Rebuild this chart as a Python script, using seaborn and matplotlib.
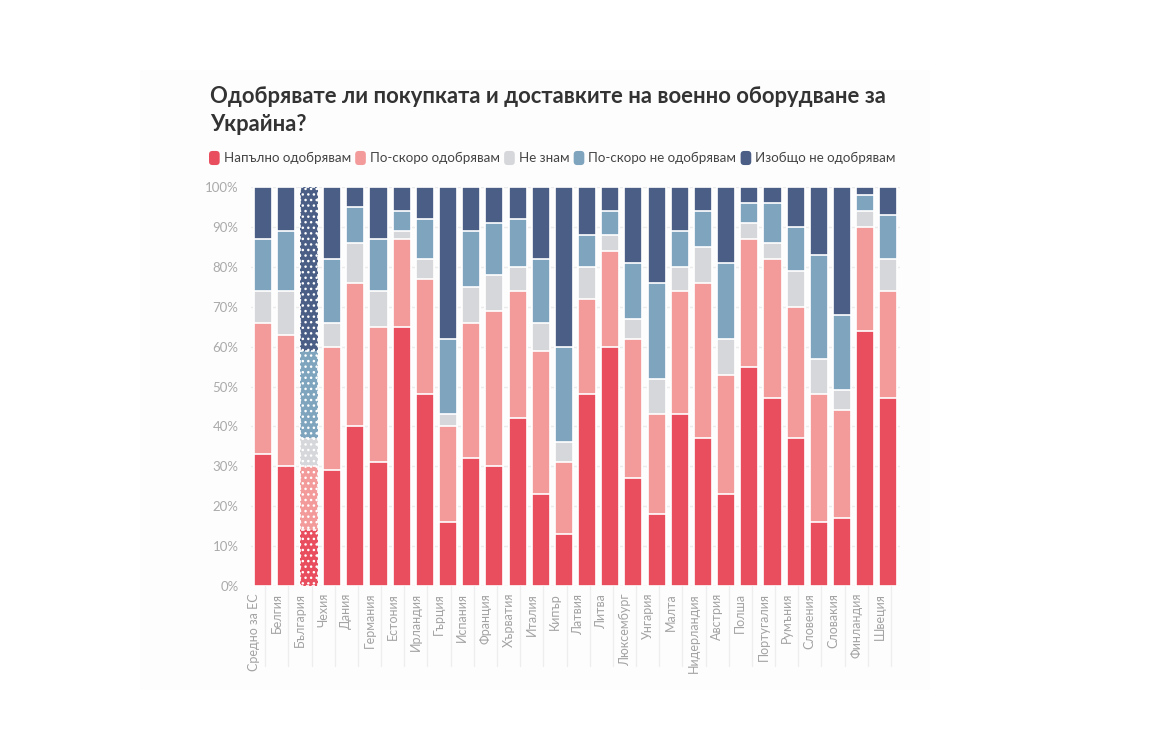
import numpy as np
import pandas as pd
import matplotlib
matplotlib.use("Agg")
import matplotlib.pyplot as plt
import matplotlib.transforms as mtransforms
from matplotlib.patches import Patch, FancyBboxPatch, Rectangle
from matplotlib.legend_handler import HandlerPatch
import seaborn as sns

# ---------------- data ----------------
countries = ["Средно за ЕС", "Белгия", "България", "Чехия", "Дания", "Германия",
             "Естония", "Ирландия", "Гърция", "Испания", "Франция", "Хърватия",
             "Италия", "Кипър", "Латвия", "Литва", "Люксембург", "Унгария",
             "Малта", "Нидерландия", "Австрия", "Полша", "Португалия", "Румъния",
             "Словения", "Словакия", "Финландия", "Швеция"]

fully_approve   = [33, 30, 14, 29, 40, 31, 65, 48, 16, 32, 30, 42, 23, 13, 48, 60, 27, 18, 43, 37, 23, 55, 47, 37, 16, 17, 64, 47]
rather_approve  = [33, 33, 16, 31, 36, 34, 22, 29, 24, 34, 39, 32, 36, 18, 24, 24, 35, 25, 31, 39, 30, 32, 35, 33, 32, 27, 26, 27]
dont_know       = [8, 11, 7, 6, 10, 9, 2, 5, 3, 9, 9, 6, 7, 5, 8, 4, 5, 9, 6, 9, 9, 4, 4, 9, 9, 5, 4, 8]
rather_disapp   = [13, 15, 22, 16, 9, 13, 5, 10, 19, 14, 13, 12, 16, 24, 8, 6, 14, 24, 9, 9, 19, 5, 10, 11, 26, 19, 4, 11]
fully_disapp    = [13, 11, 41, 18, 5, 13, 6, 8, 38, 11, 9, 8, 18, 40, 12, 6, 19, 24, 11, 6, 19, 4, 4, 10, 17, 32, 2, 7]

series_names = ["Напълно одобрявам", "По-скоро одобрявам", "Не знам",
                "По-скоро не одобрявам", "Изобщо не одобрявам"]
colors = ["#E84E5E", "#F39A9B", "#D6D7DA", "#7FA5BE", "#4B5F86"]
highlight = "България"

title = "Одобрявате ли покупката и доставките на военно оборудване за\nУкрайна?"
yticks = [0, 10, 20, 30, 40, 50, 60, 70, 80, 90, 100]

# ---------------- build table ----------------
df = pd.DataFrame({"country": countries,
                   series_names[0]: fully_approve,
                   series_names[1]: rather_approve,
                   series_names[2]: dont_know,
                   series_names[3]: rather_disapp,
                   series_names[4]: fully_disapp})
cum = df[series_names].cumsum(axis=1)
cum["country"] = df["country"]

# ---------------- figure ----------------
sns.set_theme(style="white")
plt.rcParams["font.family"] = ["Lato", "DejaVu Sans"]

W, H = 1160, 729
fig = plt.figure(figsize=(W / 100, H / 100), dpi=100)
fig.patch.set_facecolor("white")
fig.patches.append(Rectangle((140 / W, 1 - 690 / H), (930 - 140) / W, (690 - 70) / H,
                             transform=fig.transFigure, facecolor="#fdfdfd",
                             edgecolor="none", zorder=-10))

ax = fig.add_axes([251 / W, 1 - 586 / H, (900 - 251) / W, (586 - 187) / H])
ax.set_facecolor("none")

# draw layers from top cumulative down so each lower segment overlays
for i in range(len(series_names) - 1, -1, -1):
    sns.barplot(data=cum, x="country", y=series_names[i], color=colors[i],
                saturation=1, width=0.78, edgecolor="white", linewidth=1.2,
                ax=ax, zorder=3)

# hatch highlighted country
hi_idx = countries.index(highlight)
n = len(countries)
for k, p in enumerate(ax.patches):
    if k % n == hi_idx:
        p.set_hatch("...")
        p.set_linestyle((0, (2, 1.5)))

ax.set_ylim(0, 100)
ax.set_xlim(-0.5, n - 0.5)
ax.set_yticks(yticks)
ax.set_yticklabels([f"{t}%" for t in yticks])
ax.yaxis.grid(True, color="#ececec", linewidth=1, zorder=0)
ax.set_axisbelow(True)
for s in ax.spines.values():
    s.set_visible(False)
ax.tick_params(axis="y", length=6, color="#e6e6e6", labelsize=9.5, labelcolor="#aaaaaa", pad=3)
ax.tick_params(axis="x", length=0, labelsize=9, labelcolor="#a3a3a3", pad=5)
ax.set_xlabel("")
ax.set_ylabel("")

offset = mtransforms.ScaledTranslation(-9 / 100, 0, fig.dpi_scale_trans)
for lab in ax.get_xticklabels():
    lab.set_rotation(90)
    lab.set_ha("center")
    lab.set_va("top")
    lab.set_transform(lab.get_transform() + offset)

# separators between category labels
trans = mtransforms.blended_transform_factory(ax.transData, ax.transAxes)
sep_off = mtransforms.ScaledTranslation(2.6 / 100, 0, fig.dpi_scale_trans)
for i in range(n):
    ax.plot([i, i], [0, -0.2], transform=trans + sep_off, color="#eeeeee",
            linewidth=1, clip_on=False, zorder=1)

# title
fig.text(210 / W, 1 - 86 / H, title, ha="left", va="top", fontsize=15.8,
         fontweight="bold", color="#333333", linespacing=1.4)

# legend with rounded swatches
class RoundHandler(HandlerPatch):
    def create_artists(self, legend, orig_handle, xdescent, ydescent,
                       width, height, fontsize, trans):
        p = FancyBboxPatch((-xdescent, -ydescent), width, height,
                           boxstyle="round,pad=0,rounding_size=2.5",
                           facecolor=orig_handle.get_facecolor(),
                           edgecolor="none", transform=trans)
        return [p]

handles = [Patch(facecolor=c, label=l) for c, l in zip(colors, series_names)]
leg = fig.legend(handles=handles, loc="center left",
                 bbox_to_anchor=(209 / W, 1 - 158 / H), ncol=5, frameon=False,
                 fontsize=9.6, handlelength=0.8, handleheight=1.25,
                 handletextpad=0.3, columnspacing=0.32, borderpad=0,
                 borderaxespad=0, handler_map={Patch: RoundHandler()})
for t in leg.get_texts():
    t.set_color("#444444")

fig.savefig("out.png", dpi=100)
